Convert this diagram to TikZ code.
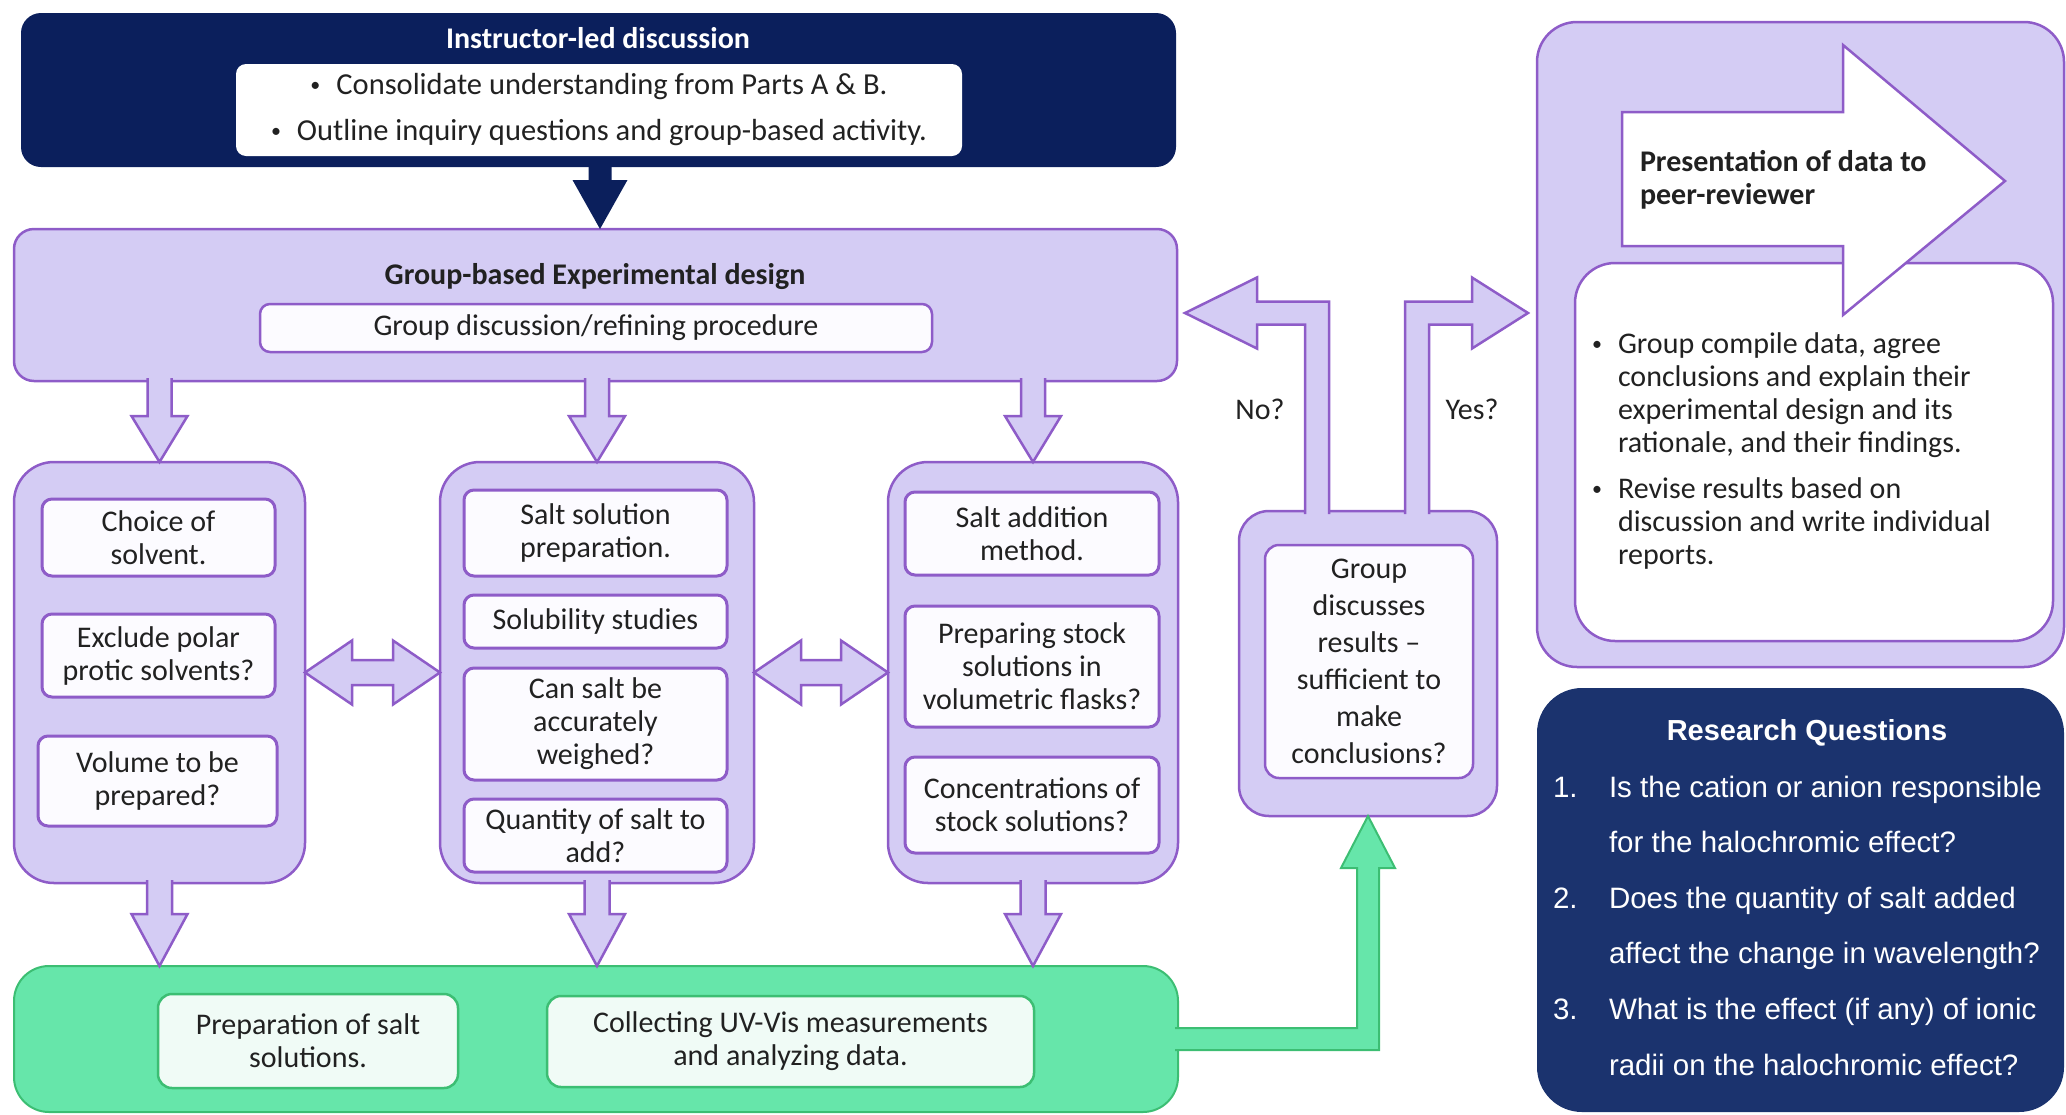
\documentclass[tikz,border=0pt]{standalone}
\usepackage{fontspec}
\setmainfont{Carlito}
\newfontfamily\rqfont{Liberation Sans}
\usetikzlibrary{calc}
\definecolor{navyA}{RGB}{11,31,92}
\definecolor{navyB}{RGB}{27,51,110}
\definecolor{lavfill}{RGB}{212,204,244}
\definecolor{purp}{RGB}{142,92,200}
\definecolor{grnfill}{RGB}{102,230,170}
\definecolor{grnline}{RGB}{60,190,115}
\definecolor{grnin}{RGB}{240,251,246}
\definecolor{txt}{RGB}{33,33,33}
\definecolor{whitein}{RGB}{252,251,255}

\newcommand\smbul{\raisebox{3pt}{\fontsize{20}{20}\selectfont\textbullet}}
\newcommand\mkbox[7]{\node[#2, minimum width={(#5)-(#3)}, minimum height={(#6)-(#4)}] (#1) at ({((#3)+(#5))/2},{((#4)+(#6))/2}) {#7};}
% style, start, tip, stem half, head half, head length
\newcommand\fatdown[6]{\path[#1] ($(#2)+(-#4,-3)$) -- ($(#3)+(-#4,-#6)$) -- ($(#3)+(-#5,-#6)$) -- (#3) -- ($(#3)+(#5,-#6)$) -- ($(#3)+(#4,-#6)$) -- ($(#2)+(#4,-3)$);}
% left, right, stem half, head half, head length
\newcommand\dblfat[5]{\draw[lavarrow] (#1) -- ($(#1)+(#5,-#4)$) -- ($(#1)+(#5,-#3)$) -- ($(#2)+(-#5,-#3)$) -- ($(#2)+(-#5,-#4)$) -- (#2) -- ($(#2)+(-#5,#4)$) -- ($(#2)+(-#5,#3)$) -- ($(#1)+(#5,#3)$) -- ($(#1)+(#5,#4)$) -- cycle;}

\tikzset{
 bstyle/.style={inner sep=0pt, outer sep=0pt, align=center, text=txt, font=\fontsize{30}{33}\selectfont},
 navybox/.style={bstyle, fill=navyA, rounded corners=20pt},
 whitebox/.style={bstyle, fill=white, rounded corners=10pt},
 lavbox/.style={bstyle, fill=lavfill, draw=purp, line width=2.5pt, rounded corners=20pt},
 colbox/.style={lavbox, rounded corners=40pt},
 inbox/.style={bstyle, fill=whitein, draw=purp, line width=3pt, rounded corners=10pt},
 grnbox/.style={bstyle, fill=grnfill, draw=grnline, line width=2pt, rounded corners=35pt},
 grninbox/.style={bstyle, fill=grnin, draw=grnline, line width=2.5pt, rounded corners=14pt},
 lavarrow/.style={fill=lavfill, draw=purp, line width=2.5pt},
 grnarrow/.style={fill=grnfill, draw=grnline, line width=2pt},
 navyarrow/.style={fill=navyA},
 boldtitle/.style={bstyle, font=\fontsize{30}{33}\selectfont\bfseries},
}

\begin{document}
\begin{tikzpicture}[x=1pt,y=-1pt]
\useasboundingbox (0,0) rectangle (2066,1114);

% ---------- instructor box
\mkbox{instr}{navybox}{21}{13}{1176}{167}{}
\node[boldtitle, text=white] (instrT) at (598,38) {Instructor-led discussion};
\mkbox{instrIn}{whitebox}{236}{64}{962}{156}{}
\node[bstyle, font=\fontsize{30.5}{46}\selectfont] (instrB) at (599,110)
 {\smbul\hspace{16pt}Consolidate understanding from Parts A \& B.\\ \smbul\hspace{16pt}Outline inquiry questions and group-based activity.};

% ---------- experimental design
\mkbox{lav}{lavbox}{14}{229}{1177}{381}{}
\node[boldtitle] (lavT) at (595,277) {Group-based Experimental design};
\mkbox{lavIn}{inbox, line width=2.5pt}{260}{304}{932}{352}{Group discussion/refining procedure}

% ---------- columns
\mkbox{c1}{colbox}{14}{462}{305}{883}{}
\mkbox{c2}{colbox}{440}{462}{754}{883}{}
\mkbox{c3}{colbox}{888}{462}{1178}{883}{}

\mkbox{c1a}{inbox}{42}{499}{275}{576}{Choice of\\solvent.}
\mkbox{c1b}{inbox}{42}{614}{275}{697}{Exclude polar\\protic solvents?}
\mkbox{c1c}{inbox}{38}{736}{277}{826}{Volume to be\\prepared?}

\mkbox{c2a}{inbox}{464}{490}{727}{576}{Salt solution\\preparation.}
\mkbox{c2b}{inbox}{464}{595}{727}{648}{Solubility studies}
\mkbox{c2c}{inbox}{464}{668}{727}{780}{Can salt be\\accurately\\weighed?}
\mkbox{c2d}{inbox}{464}{799}{727}{872}{Quantity of salt to\\add?}

\mkbox{c3a}{inbox}{905}{492}{1159}{575}{Salt addition\\method.}
\mkbox{c3b}{inbox}{905}{606}{1159}{727}{Preparing stock\\solutions in\\volumetric flasks?}
\mkbox{c3c}{inbox}{905}{757}{1159}{853}{Concentrations of\\stock solutions?}

% ---------- green box
\mkbox{grn}{grnbox}{14}{966}{1178}{1112}{}
\mkbox{g1}{grninbox}{158}{994}{458}{1088}{Preparation of salt\\solutions.}
\mkbox{g2}{grninbox}{547}{996}{1034}{1087}{Collecting UV-Vis measurements\\and analyzing data.}

% ---------- group discusses
\mkbox{gd}{lavbox, rounded corners=30pt}{1239}{511}{1497}{816}{}
\mkbox{gdIn}{inbox, line width=2.5pt, rounded corners=14pt, font=\fontsize{30}{37}\selectfont}{1265}{545}{1473}{778}{Group\\discusses\\results --\\sufficient to\\make\\conclusions?}

% ---------- presentation box
\mkbox{pres}{lavbox, rounded corners=40pt}{1537}{22}{2064}{667}{}
\mkbox{presIn}{inbox, fill=white, line width=2.5pt, rounded corners=40pt}{1575}{263}{2053}{641}{}
\draw[fill=white, draw=purp, line width=2.5pt] (1622,112) -- (1843,112) -- (1843,45) -- (2005,181) -- (1843,315) -- (1843,246) -- (1622,246) -- cycle;
\node[boldtitle, anchor=west, align=left] (presT) at (1640,180) {Presentation of data to\\peer-reviewer};
\node[bstyle, anchor=west] (pb1) at (1592,396) {\begin{tabular}{@{}l@{}l@{}}\makebox[26pt][l]{\smbul} & Group compile data, agree\\ & conclusions and explain their\\ & experimental design and its\\ & rationale, and their findings.\end{tabular}};
\node[bstyle, anchor=west] (pb2) at (1592,525) {\begin{tabular}{@{}l@{}l@{}}\makebox[26pt][l]{\smbul} & Revise results based on\\ & discussion and write individual\\ & reports.\end{tabular}};

% ---------- research questions
\mkbox{rq}{navybox, fill=navyB, rounded corners=45pt}{1537}{688}{2064}{1112}{}
\node[bstyle, text=white, font=\rqfont\bfseries\fontsize{29}{33}\selectfont] (rqT) at (1807,733) {Research Questions};
\node[bstyle, anchor=west, text=white, font=\rqfont\fontsize{29.5}{55.6}\selectfont] (rqL) at (1553,925)
 {\begin{tabular}{@{}l@{}l@{}}\makebox[56pt][l]{1.} & Is the cation or anion responsible\\ & for the halochromic effect?\\ \makebox[56pt][l]{2.} & Does the quantity of salt added\\ & affect the change in wavelength?\\ \makebox[56pt][l]{3.} & What is the effect (if any) of ionic\\ & radii on the halochromic effect?\end{tabular}};

% ---------- labels
\node[bstyle] (noL) at (1260,409) {No?};
\node[bstyle] (yesL) at (1472,409) {Yes?};

% ---------- connectors
\coordinate (na) at (600,167);
\coordinate (nt) at (na |- lav.north);
\fatdown{navyarrow}{na}{nt}{11.5}{27.5}{49}

\coordinate (a1) at (c1.north |- lav.south);
\coordinate (a2) at (c2.north |- lav.south);
\coordinate (a3) at (c3.north |- lav.south);
\fatdown{lavarrow}{a1}{c1.north}{12}{28}{46}
\fatdown{lavarrow}{a2}{c2.north}{12}{28}{46}
\fatdown{lavarrow}{a3}{c3.north}{12}{28}{46}

\coordinate (b1) at (c1.south |- grn.north);
\coordinate (b2) at (c2.south |- grn.north);
\coordinate (b3) at (c3.south |- grn.north);
\fatdown{lavarrow}{c1.south}{b1}{12.5}{28}{52}
\fatdown{lavarrow}{c2.south}{b2}{12.5}{28}{52}
\fatdown{lavarrow}{c3.south}{b3}{12.5}{28}{52}

\dblfat{c1.east}{c2.west}{12.5}{32}{47}
\dblfat{c2.east}{c3.west}{12.5}{32}{47}

% green arrow
\coordinate (gs) at (grn.east);
\coordinate (gc) at (gd.south |- gs);
\path[grnarrow] ($(gs)+(-3,-11)$) -- ($(gc)+(-11,-11)$) -- ($(gd.south)+(-11,52)$) -- ($(gd.south)+(-27,52)$) -- (gd.south) -- ($(gd.south)+(27,52)$) -- ($(gd.south)+(11,52)$) -- ($(gc)+(11,11)$) -- ($(gs)+(-3,11)$);

% No arrow
\coordinate (nb) at ($(gd.north)+(-51,0)$);
\coordinate (notip) at ($(lav.east)+(8,8)$);
\coordinate (nc) at (nb |- notip);
\path[lavarrow] ($(nb)+(12,3)$) -- ($(nc)+(12,-11.5)$) -- ($(notip)+(72,-11.5)$) -- ($(notip)+(72,-35.5)$) -- (notip) -- ($(notip)+(72,35.5)$) -- ($(notip)+(72,11.5)$) -- ($(nc)+(-12,11.5)$) -- ($(nb)+(-12,3)$);

% Yes arrow
\coordinate (yb) at ($(gd.north)+(49,0)$);
\coordinate (yestip) at ($(pres.west |- notip)+(-9,0)$);
\coordinate (yc) at (yb |- notip);
\path[lavarrow] ($(yb)+(-12,3)$) -- ($(yc)+(-12,-11.5)$) -- ($(yestip)+(-56,-11.5)$) -- ($(yestip)+(-56,-35.5)$) -- (yestip) -- ($(yestip)+(-56,35.5)$) -- ($(yestip)+(-56,11.5)$) -- ($(yc)+(12,11.5)$) -- ($(yb)+(12,3)$);
\end{tikzpicture}
\end{document}
